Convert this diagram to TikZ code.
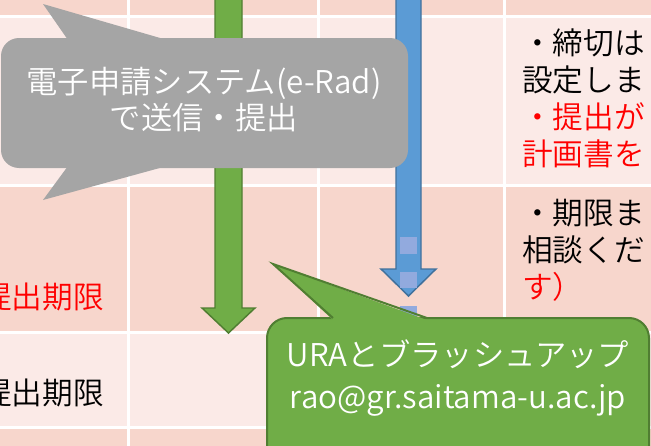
\documentclass[tikz,border=0pt]{standalone}
\usepackage{fontspec}
\setmainfont{Noto Sans CJK JP DemiLight}
\definecolor{rowdark}{RGB}{247,214,204}
\definecolor{rowlight}{RGB}{251,234,231}
\definecolor{calgray}{RGB}{165,165,165}
\definecolor{grfill}{RGB}{112,173,71}
\definecolor{grline}{RGB}{80,126,50}
\definecolor{blfill}{RGB}{91,155,213}
\definecolor{blline}{RGB}{65,113,156}
\definecolor{blsq}{RGB}{146,170,222}
\definecolor{txtred}{RGB}{255,0,0}
\tikzset{
  cell/.style={inner sep=0pt, font=\fontsize{23}{27.75}\selectfont, align=left},
  grid/.style={draw=white, line width=2.25pt},
  garrow/.style={fill=grfill, draw=grline, line width=1.1pt, line join=miter},
  barrow/.style={fill=blfill, draw=blline, line width=1.1pt, line join=miter},
  sq/.style={fill=blsq, draw=none},
  caltext/.style={inner sep=0pt, text=white, align=center},
}
\begin{document}
\begin{tikzpicture}[x=0.75pt,y=-0.75pt]
\useasboundingbox (0,0) rectangle (651,446);
\clip (0,0) rectangle (651,446);
% rows
\fill[rowdark] (0,-5) rectangle (660,16);
\fill[rowlight] (0,16) rectangle (660,185);
\fill[rowdark] (0,185) rectangle (660,332);
\fill[rowlight] (0,332) rectangle (660,427);
\fill[rowdark] (0,427) rectangle (660,460);
% grid lines
\foreach \yy in {16,185,332,427} \draw[grid] (-5,\yy) -- (660,\yy);
\foreach \xx in {128,318,504} \draw[grid] (\xx,-5) -- (\xx,460);
% table texts
\node[cell, anchor=east, text=txtred] (lim1) at (104,297) {提出期限};
\node[cell, anchor=east] (lim2) at (104,393) {提出期限};
\node[cell, anchor=west] (note1) at (522,98) {・締切は\\設定しま\\\textcolor{txtred}{・提出が}\\\textcolor{txtred}{計画書を}};
\node[cell, anchor=west] (note2) at (522,250) {・期限ま\\相談くだ\\\textcolor{txtred}{す）}};
% green arrow
\draw[garrow] (215,-5) -- (215,308) -- (202,308) -- (228.5,333) -- (255,308) -- (242,308) -- (242,-5);
% blue arrow
\draw[barrow] (396,-5) -- (396,269) -- (381,269) -- (408.5,296) -- (436,269) -- (421,269) -- (421,-5);
\fill[sq] (400,237) rectangle (417,254);
\fill[sq] (400,272) rectangle (417,288);
\fill[sq] (400,306) rectangle (417,324);
% gray callout
\fill[calgray] (43,4) -- (68,40) -- (167,40) -- cycle;
\fill[calgray] (43,200) -- (68,166) -- (167,166) -- cycle;
\fill[calgray, rounded corners=13.5pt] (1,38) rectangle (408,168);
\node[caltext, font=\fontsize{23.5}{27}\selectfont] (erad) at (204,100) {電子申請システム(e-Rad)\\で送信・提出};
% green callout
\draw[fill=grfill, draw=grline, line width=1.5pt, rounded corners=15pt] (267,318) rectangle (649,480);
\fill[grfill] (273,264) -- (333,320) -- (427,320) -- cycle;
\draw[grline, line width=1.5pt, line join=miter] (333,318) -- (273,264) -- (427,318);
\node[caltext, font=\fontsize{23.5}{32}\selectfont] (ura) at (458,378) {URAとブラッシュアップ\\rao@gr.saitama-u.ac.jp};
\end{tikzpicture}
\end{document}
